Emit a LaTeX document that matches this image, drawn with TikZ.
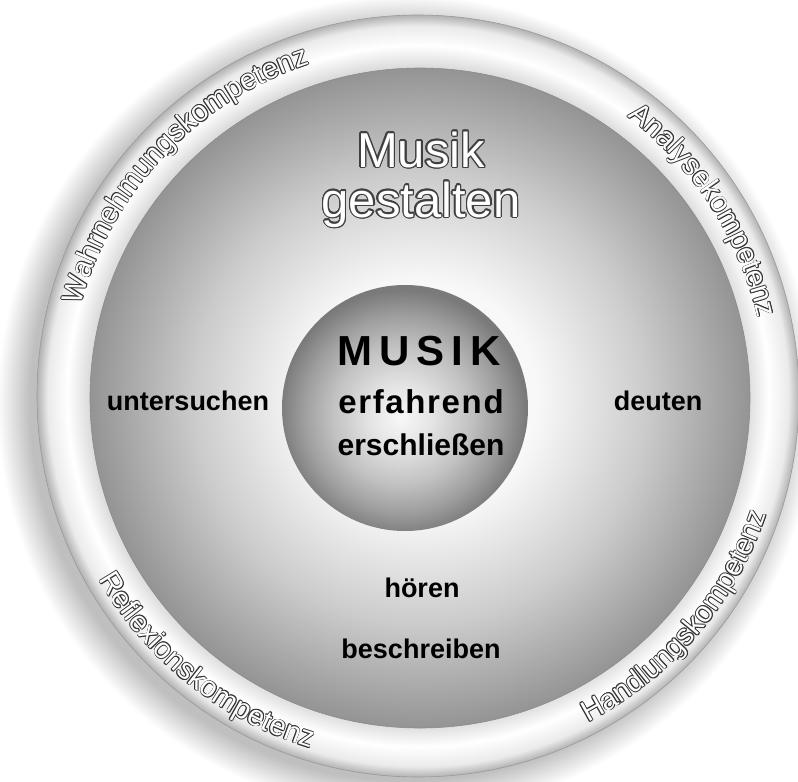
\documentclass[tikz,border=0pt]{standalone}
\usepackage{fontspec}
\usepackage{contour}
\setmainfont{Liberation Sans}
\usetikzlibrary{decorations.text}

\pgfdeclareradialshading{shadowshade}{\pgfpointorigin}{color(0bp)=(black!28); color(23bp)=(black!25); color(25bp)=(white); color(50bp)=(white)}
\pgfdeclareradialshading{ringshade}{\pgfpointorigin}{color(0bp)=(white); color(21.6bp)=(black!14); color(23bp)=(white); color(24.3bp)=(black!8); color(25bp)=(black!30); color(50bp)=(black!30)}
\pgfdeclareradialshading{midshade}{\pgfpointorigin}{color(0bp)=(white); color(9bp)=(black!3); color(17bp)=(black!20); color(25bp)=(black!42); color(50bp)=(black!42)}
\pgfdeclareradialshading{coreshade}{\pgfpoint{-1bp}{-2bp}}{color(0bp)=(black!3); color(6bp)=(black!10); color(14bp)=(black!24); color(20bp)=(black!38); color(25bp)=(black!52); color(50bp)=(black!52)}

\newcommand\compstyle{\fontsize{29bp}{32bp}\selectfont}
\contourlength{1.4bp}

\begin{document}
\begin{tikzpicture}[x=1bp,y=1bp,
  verbtext/.style={anchor=base,font=\bfseries\fontsize{27bp}{30bp}\selectfont},
  hollow/.style={anchor=base,font=\fontsize{49bp}{54bp}\selectfont}]
\useasboundingbox (0,0) rectangle (798,-782);
\coordinate (c) at (418,-396);
\coordinate (k) at (405,-408);
% shadow, ring, middle disc, core
\shade[shading=shadowshade] ([shift={(-12,-8)}]c) circle[radius=409];
\shade[shading=ringshade,draw=black!40,line width=.6] (c) circle[radius=381];
\shade[shading=midshade,draw=black!45,line width=.6] (420,-398) circle[radius=330];
\shade[shading=coreshade] (k) circle[radius=123];
% competences on the ring, hollow letters from shifted copies
\begin{scope}[shift={(c)}]
\foreach \mid/\s/\r/\txt in {136.5/1/349/Wahrnehmungskompetenz,33/1/349/Analysekompetenz,231.5/-1/368/Reflexionskompetenz,-40.6/-1/368/Handlungskompetenz}{
  \foreach \dx/\dy/\col in {.8/0/black!80,-.8/0/black!80,0/.8/black!80,0/-.8/black!80,.57/.57/black!80,-.57/.57/black!80,.57/-.57/black!80,-.57/-.57/black!80,0/0/white}
    \path[shift={(\dx,\dy)},decorate,decoration={text along path,text align=center,text color=\col,
      text/.expanded={|\noexpand\compstyle|\txt}}]
      ({\mid+\s*45}:\r) arc[start angle=\mid+\s*45,end angle=\mid-\s*45,radius=\r];
}
\end{scope}
\node[hollow] (musik) at (421,-167) {\color{white}\contour{black!75}{Musik}};
\node[hollow] (gestalten) at (421,-217) {\color{white}\contour{black!75}{gestalten}};
\node[anchor=base,font=\bfseries\fontsize{42bp}{46bp}\selectfont] (MUSIK) at (419,-365) {M\kern7bp U\kern7bp S\kern7bp I\kern7bp K};
\node[anchor=base,font=\bfseries\fontsize{33bp}{36bp}\selectfont\addfontfeature{LetterSpace=5}] (erfahrend) at (421,-413) {erfahrend};
\node[anchor=base,font=\bfseries\fontsize{30bp}{34bp}\selectfont] (erschliessen) at (421,-455) {erschließen};
\node[verbtext] (untersuchen) at (188,-410) {untersuchen};
\node[verbtext] (deuten) at (658,-410) {deuten};
\node[verbtext] (hoeren) at (422,-597) {hören};
\node[verbtext] (beschreiben) at (421,-658) {beschreiben};
\end{tikzpicture}
\end{document}
